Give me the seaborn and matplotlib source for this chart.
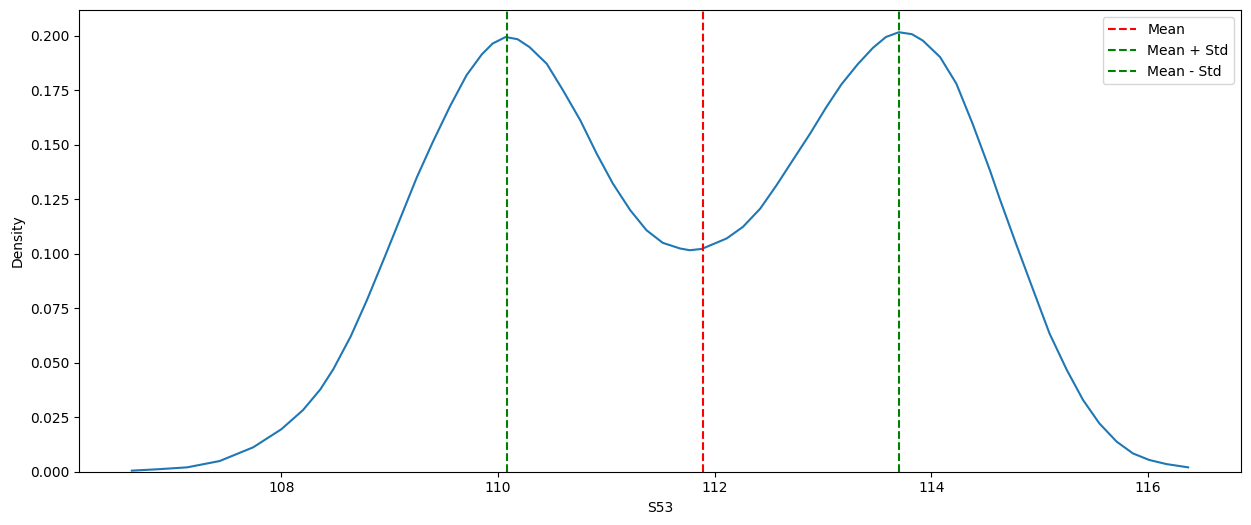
import matplotlib
matplotlib.use("Agg")
import matplotlib.pyplot as plt
import seaborn as sns
import pandas as pd

# Density curve of S53
s53_x = [106.62, 106.85, 107.13, 107.43, 107.74, 108.00, 108.20, 108.36, 108.48,
         108.64, 108.79, 108.95, 109.10, 109.25, 109.40, 109.56, 109.71, 109.85,
         109.95, 110.07, 110.18, 110.29, 110.45, 110.60, 110.76, 110.91, 111.06,
         111.22, 111.37, 111.52, 111.68, 111.77, 111.88, 112.11, 112.26, 112.42,
         112.57, 112.72, 112.88, 113.03, 113.17, 113.32, 113.46, 113.58, 113.70,
         113.82, 113.92, 114.08, 114.23, 114.38, 114.54, 114.63, 114.78, 114.94,
         115.09, 115.25, 115.40, 115.55, 115.71, 115.86, 116.01, 116.17, 116.37]
s53_density = [0.0004, 0.0010, 0.0019, 0.0048, 0.0111, 0.0194, 0.0282, 0.0377, 0.0470,
               0.0620, 0.0787, 0.0980, 0.1165, 0.1350, 0.1515, 0.1680, 0.1820, 0.1915,
               0.1965, 0.1995, 0.1985, 0.1949, 0.1872, 0.1750, 0.1612, 0.1460, 0.1322,
               0.1200, 0.1108, 0.1050, 0.1024, 0.1016, 0.1022, 0.1070, 0.1123, 0.1207,
               0.1314, 0.1429, 0.1551, 0.1673, 0.1778, 0.1870, 0.1945, 0.1995, 0.2017,
               0.2008, 0.1979, 0.1903, 0.1781, 0.1597, 0.1383, 0.1253, 0.1047, 0.0833,
               0.0634, 0.0466, 0.0328, 0.0221, 0.0137, 0.0083, 0.0053, 0.0034, 0.0019]

# Summary statistics shown as reference lines
s53_mean = 111.89
s53_std = 1.81
line_labels = ["Mean", "Mean + Std", "Mean - Std"]

df = pd.DataFrame({"S53": s53_x, "Density": s53_density})

fig = plt.figure(figsize=(12.51, 5.25), dpi=100)
ax = fig.add_axes([79 / 1251, 53.5 / 525, 1162 / 1251, 461.2 / 525])

sns.lineplot(data=df, x="S53", y="Density", ax=ax, color="#1f77b4",
             linewidth=1.5, sort=True)

ax.axvline(s53_mean, color="red", linestyle="--", label=line_labels[0])
ax.axvline(s53_mean + s53_std, color="green", linestyle="--", label=line_labels[1])
ax.axvline(s53_mean - s53_std, color="green", linestyle="--", label=line_labels[2])

ax.set_ylim(bottom=0)
ax.set_xlabel("S53")
ax.set_ylabel("Density")
ax.legend(loc="upper right")

fig.savefig("out.png", dpi=100)
